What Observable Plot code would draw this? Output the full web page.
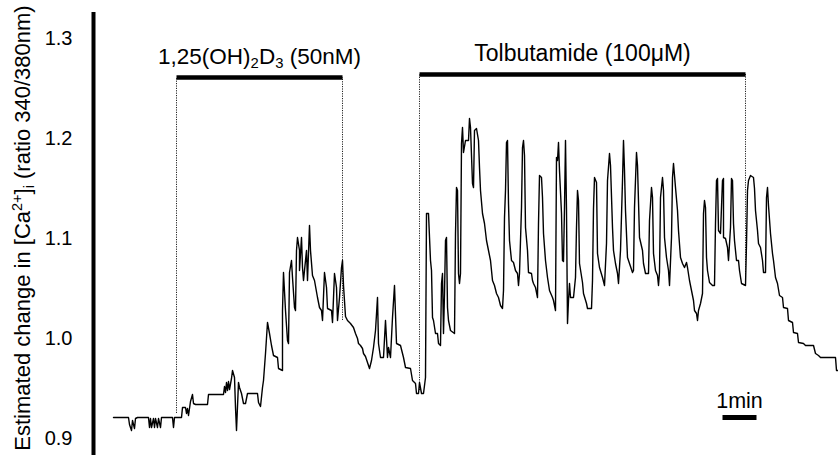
<!DOCTYPE html>
<html><head><meta charset="utf-8">
<script src="https://cdn.jsdelivr.net/npm/d3@7"></script>
<script src="https://cdn.jsdelivr.net/npm/@observablehq/plot@0.6"></script>
<style>body{margin:0;background:#fff} svg{display:block}</style>
</head><body><div id="chart"></div>
<script>
// recording frame index (34 frames = 1 min) and fura-2 ratio 340/380
const frame = [0,15,16,18,19,21,22,24,35,36,37,38,40,41,42,44,45,47,48,59,60,61,
68,69,72,73,74,75,77,79,80,82,94,95,110,
111,112,113,114,115,116,118,119,121,122,123,125,126,128,130,132,134,
144,145,147,149,150,152,154,156,158,160,164,165,169,
169,170,172,174,175,176,178,179,181,182,183,184,186,186,188,189,190,193,194,
196,197,199,201,204,206,208,209,211,213,214,218,219,221,223,224,226,228,229,230,
232,234,237,240,242,244,245,247,249,250,252,254,256,
258,260,262,264,265,267,270,272,274,275,277,279,281,283,
287,290,292,297,299,302,303,305,306,308,310,312,
313,315,317,318,319,320,322,324,325,327,328,329,330,331,332,333,334,335,337,341,
342,343,344,345,346,347,348,349,350,352,355,356,357,359,360,361,363,365,366,367,
369,371,373,375,377,379,381,383,385,387,389,
390,391,392,393,394,395,396,398,400,402,404,405,406,
408,409,410,411,412,414,415,418,419,420,422,424,
425,426,428,429,430,432,434,436,439,440,442,
443,444,445,446,448,449,450,451,452,453,454,455,456,457,460,
462,463,464,465,466,469,470,473,474,478,
479,480,481,483,484,486,489,491,
493,494,496,497,499,500,502,504,505,
507,509,510,511,512,514,516,519,520,
521,523,524,526,529,530,532,535,
536,538,539,540,542,544,545,546,
547,549,550,551,553,555,556,
558,559,560,562,564,565,567,569,571,
573,574,576,578,580,581,583,584,585,587,589,
590,591,592,593,594,596,599,601,
602,603,604,605,607,609,610,610,612,614,615,
617,618,619,620,621,623,625,626,628,632,
633,634,635,637,640,641,642,644,645,647,649,650,652,
653,654,655,657,659,660,662,664,666,669,670,674,
675,679,680,684,685,690,692,700,702,705,707,722,723,725];

const ratio = [0.921,0.921,0.914,0.908,0.918,0.910,0.920,0.921,0.921,0.911,0.920,0.911,0.920,0.911,0.920,0.911,0.920,0.911,0.921,0.921,0.911,0.921,
0.921,0.931,0.931,0.925,0.930,0.923,0.937,0.944,0.935,0.934,0.934,0.944,0.944,
0.952,0.946,0.956,0.948,0.957,0.949,0.960,0.968,0.961,0.931,0.908,0.956,0.951,0.945,0.935,0.935,0.945,
0.945,0.936,0.932,0.951,0.958,0.985,1.016,1.005,0.993,0.983,0.981,0.970,0.968,
1.028,1.066,1.028,0.998,0.995,1.066,1.078,1.061,1.031,1.028,1.088,1.101,1.088,1.068,1.101,1.071,1.058,1.088,1.058,
1.113,1.088,1.063,1.058,1.041,1.031,1.028,1.018,1.066,1.051,1.030,1.028,1.016,1.065,1.051,1.018,1.041,1.071,1.078,1.053,
1.022,1.018,1.015,1.011,1.005,1.000,0.995,0.993,0.990,0.985,0.982,0.976,0.970,
0.978,0.991,1.008,1.041,0.995,0.981,0.981,1.018,0.981,0.991,0.981,1.021,1.053,0.995,
0.993,0.981,0.971,0.970,0.958,0.955,0.945,0.945,0.956,0.945,0.945,0.961,
1.125,1.125,1.078,1.068,1.021,1.018,1.005,1.005,0.995,0.993,1.055,1.065,1.005,1.045,1.098,1.101,1.031,1.018,1.008,1.005,
1.105,1.151,1.148,1.065,1.055,1.065,1.195,1.211,1.186,1.198,1.198,1.220,1.211,1.155,1.151,1.208,1.210,1.198,1.171,1.148,
1.125,1.115,1.098,1.088,1.078,1.058,1.053,1.045,1.041,1.033,1.030,
1.048,1.121,1.148,1.196,1.198,1.135,1.098,1.078,1.076,1.068,1.065,1.053,1.065,
1.131,1.191,1.198,1.183,1.111,1.088,1.066,1.065,1.058,1.055,1.051,1.041,
1.115,1.163,1.161,1.141,1.105,1.078,1.061,1.048,1.041,1.038,1.028,
1.181,1.178,1.196,1.168,1.125,1.078,1.077,1.131,1.198,1.128,1.015,1.038,1.055,1.041,1.041,
1.061,1.111,1.148,1.138,1.075,1.056,1.045,1.035,1.030,1.030,
1.058,1.130,1.161,1.156,1.085,1.071,1.061,1.053,
1.095,1.158,1.185,1.173,1.111,1.088,1.075,1.065,1.055,
1.088,1.158,1.198,1.168,1.128,1.081,1.075,1.066,1.068,
1.131,1.186,1.173,1.101,1.088,1.075,1.065,1.065,
1.118,1.151,1.141,1.085,1.068,1.063,1.053,1.066,
1.141,1.161,1.148,1.101,1.081,1.068,1.053,
1.101,1.161,1.175,1.151,1.128,1.108,1.081,1.075,1.071,
1.076,1.071,1.058,1.048,1.038,1.028,1.025,1.018,1.028,1.035,1.045,
1.125,1.138,1.131,1.081,1.068,1.056,1.053,1.053,
1.115,1.158,1.160,1.108,1.105,1.158,1.160,1.101,1.100,1.091,1.078,
1.111,1.160,1.158,1.115,1.098,1.078,1.078,1.068,1.055,1.053,
1.095,1.148,1.158,1.163,1.161,1.150,1.128,1.108,1.095,1.091,1.078,1.066,1.066,
1.141,1.151,1.133,1.105,1.085,1.078,1.061,1.055,1.043,1.041,1.031,1.030,
1.018,1.016,1.006,1.005,0.996,0.995,0.993,0.993,0.985,0.983,0.981,0.981,0.968,0.968];

const yTicks = [0.9, 1.0, 1.1, 1.2, 1.3];
const yLabel = "Estimated change in [Ca2+]i (ratio 340/380nm)";

// treatments
const treatName = ["1,25(OH)2D3 (50nM)", "Tolbutamide (100μM)"];
const treatStart = [63, 306];
const treatEnd = [229, 632];
const treatBar = [1.261, 1.264];
const treatLabelAt = [1.275, 1.278];
const traceAtStart = [0.925, 0.948];
const traceAtEnd = [1.018, 1.054];

// time scale bar
const framesPerMinute = 34;
const scaleBarStart = 609;
const scaleBarLevel = 0.921;
const scaleLabel = "1min";
const scaleLabelAt = 0.931;

if (frame.length !== ratio.length) throw new Error("length mismatch " + frame.length + " " + ratio.length);

const trace = frame.map((f, i) => ({frame: f, ratio: ratio[i]}));
const treats = treatName.map((n, i) => ({
  name: n, x1: treatStart[i], x2: treatEnd[i], mid: (treatStart[i] + treatEnd[i]) / 2,
  bar: treatBar[i], labelAt: treatLabelAt[i]
}));
const dotted = [];
treats.forEach((t, i) => {
  dotted.push({x: t.x1, y1: traceAtStart[i], y2: t.bar});
  dotted.push({x: t.x2, y1: traceAtEnd[i], y2: t.bar});
});
const scaleBar = [{x1: scaleBarStart, x2: scaleBarStart + framesPerMinute, y: scaleBarLevel}];

const FONT = "'Liberation Sans', Arial, Helvetica, sans-serif";

const plot = Plot.plot({
  width: 838, height: 461,
  marginLeft: 93, marginRight: 0, marginTop: 12, marginBottom: 6,
  x: {domain: [-20, 725], axis: null},
  y: {domain: [0.883, 1.326], axis: null},
  style: {fontFamily: FONT, background: "white", color: "black"},
  marks: [
    Plot.axisY({ticks: yTicks, tickSize: 0, tickPadding: 21, tickFormat: d3.format(".1f"), fontSize: 20, label: null}),
    Plot.ruleX([-20], {stroke: "black", strokeWidth: 4}),
    Plot.ruleX(dotted, {x: "x", y1: "y1", y2: "y2", stroke: "#222", strokeWidth: 1, strokeDasharray: "1.2,1.2"}),
    Plot.line(trace, {x: "frame", y: "ratio", stroke: "black", strokeWidth: 1.4}),
    Plot.link(treats, {x1: "x1", x2: "x2", y1: "bar", y2: "bar", stroke: "black", strokeWidth: 4.5}),
    Plot.text(treats, {x: "mid", y: "labelAt", text: "name", lineAnchor: "bottom", fontSize: d => d.name === treatName[1] ? 23 : 22.5, fill: "black"}),
    Plot.link(scaleBar, {x1: "x1", x2: "x2", y1: "y", y2: "y", stroke: "black", strokeWidth: 5}),
    Plot.text(scaleBar, {x: d => (d.x1 + d.x2) / 2, y: () => scaleLabelAt, text: () => scaleLabel, lineAnchor: "bottom", fontSize: 21.5, fill: "black"}),
    Plot.text([yLabel], {frameAnchor: "left", textAnchor: "middle", rotate: -90, dx: -71, dy: -6, fontSize: 22, fill: "black", lineAnchor: "middle"})
  ]
});

document.getElementById("chart").appendChild(plot);

function rich(node, parts, F) {
  const sel = d3.select(node);
  sel.text(null);
  let shift = 0;
  for (const [s, kind] of parts) {
    const target = kind === "sup" ? -0.36 * F : kind === "sub" ? 0.2 * F : 0;
    const t = sel.append("tspan").text(s).attr("dy", target - shift);
    if (kind !== "n") t.attr("font-size", 0.66 * F);
    shift = target;
  }
}
d3.select(plot).selectAll("text").each(function() {
  const s = this.textContent;
  if (s === treatName[0]) rich(this, [["1,25(OH)", "n"], ["2", "sub"], ["D", "n"], ["3", "sub"], [" (50nM)", "n"]], 22.5);
  if (s === yLabel) rich(this, [["Estimated change in [Ca", "n"], ["2+", "sup"], ["]", "n"], ["i", "sub"], [" (ratio 340/380nm)", "n"]], 22);
});
</script></body></html>
